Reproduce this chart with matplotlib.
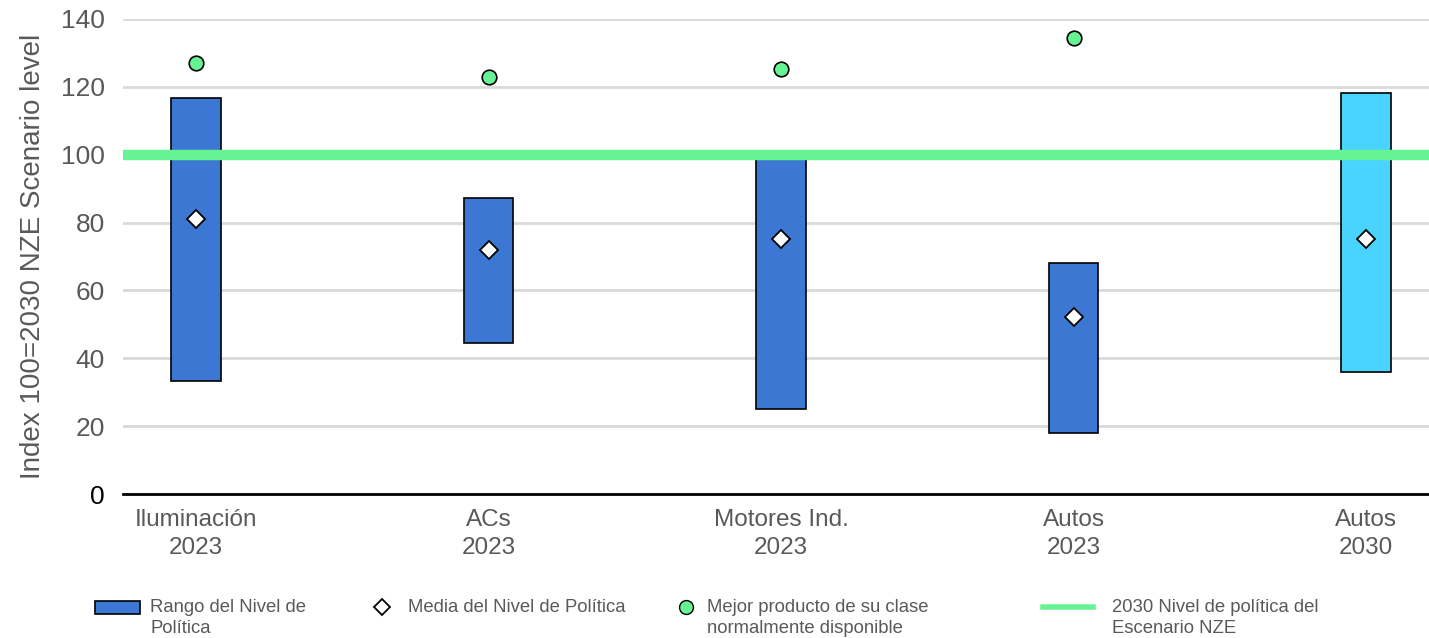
import matplotlib.pyplot as plt
from matplotlib.lines import Line2D
from matplotlib.patches import Rectangle

plt.rcParams["font.family"] = ["Liberation Sans", "DejaVu Sans"]

# policy level ranges, indexed to the 2030 NZE Scenario level (=100)
categories = ["Iluminación\n2023", "ACs\n2023", "Motores Ind.\n2023", "Autos\n2023", "Autos\n2030"]
range_low = [33.3, 44.5, 25.0, 18.0, 36.0]
range_high = [116.7, 87.2, 100.0, 68.1, 118.2]
policy_mean = [81.0, 71.9, 75.2, 52.2, 75.2]
best_available = [127.0, 122.9, 125.3, 134.4, None]
nze_level = 100

BLUE = "#3C78D3"
CYAN = "#48D4FF"
GREEN = "#66F394"
GREY = "#595959"

W, H = 1429, 638
fig = plt.figure(figsize=(W / 100, H / 100), dpi=100)
ax = fig.add_axes([123 / W, 1 - 494 / H, 1 - 123 / W, (494 - 19) / H])

xs = list(range(len(categories)))
colors = [BLUE] * 4 + [CYAN]
heights = [h - l for l, h in zip(range_low, range_high)]
ax.bar(xs, heights, bottom=range_low, width=0.17, color=colors,
       edgecolor="black", linewidth=1.2, zorder=3)

ax.axhline(nze_level, color=GREEN, linewidth=7.5, zorder=4)

ax.plot(xs, policy_mean, linestyle="none", marker="D", markersize=9,
        markerfacecolor="white", markeredgecolor="black", markeredgewidth=1.3, zorder=5)

bx = [x for x, v in zip(xs, best_available) if v is not None]
by = [v for v in best_available if v is not None]
ax.plot(bx, by, linestyle="none", marker="o", markersize=10.5,
        markerfacecolor=GREEN, markeredgecolor="black", markeredgewidth=1.2, zorder=5)

ax.set_xlim(-0.25, 4.215)
ax.set_ylim(0, 140)
ax.set_yticks(range(0, 141, 20))
ax.set_xticks(xs)
ax.set_xticklabels(categories, fontsize=17.5, color=GREY, linespacing=1.35)
ax.tick_params(axis="both", length=0)
ax.tick_params(axis="y", pad=13)
ax.tick_params(axis="x", pad=11)
for i, lab in enumerate(ax.get_yticklabels()):
    lab.set_fontsize(19)
    lab.set_color("black" if i == 0 else GREY)
ax.set_ylabel("Index 100=2030 NZE Scenario level", fontsize=20, color=GREY, labelpad=11)

ax.grid(axis="y", color="#D9D9D9", linewidth=2, zorder=0)
for side in ["top", "right", "left"]:
    ax.spines[side].set_visible(False)
ax.spines["bottom"].set_color("black")
ax.spines["bottom"].set_linewidth(2)
ax.spines["bottom"].set_zorder(6)


# legend row along the bottom, laid out in pixel positions
def fx(px):
    return px / W


def fy(py):
    return 1 - py / H


row_y = 607
fig.add_artist(Rectangle((fx(95), fy(614)), 45 / W, 13 / H, transform=fig.transFigure,
                         facecolor=BLUE, edgecolor="black", linewidth=1.2))
fig.add_artist(Line2D([fx(382)], [fy(row_y)], transform=fig.transFigure, linestyle="none",
                      marker="D", markersize=8, markerfacecolor="white",
                      markeredgecolor="black", markeredgewidth=1.3))
fig.add_artist(Line2D([fx(686)], [fy(row_y)], transform=fig.transFigure, linestyle="none",
                      marker="o", markersize=10, markerfacecolor=GREEN,
                      markeredgecolor="black", markeredgewidth=1.0))
fig.add_artist(Line2D([fx(1043), fx(1093)], [fy(row_y), fy(row_y)], transform=fig.transFigure,
                      color=GREEN, linewidth=4))

legend_labels = [
    ("Rango del Nivel de\nPolítica", 150),
    ("Media del Nivel de Política", 408),
    ("Mejor producto de su clase\nnormalmente disponible", 707),
    ("2030 Nivel de política del\nEscenario NZE", 1112),
]
for text, px in legend_labels:
    fig.text(fx(px), fy(599), text, ha="left", va="top", fontsize=13.3,
             color=GREY, linespacing=1.3)

fig.savefig("out.png", dpi=100)
